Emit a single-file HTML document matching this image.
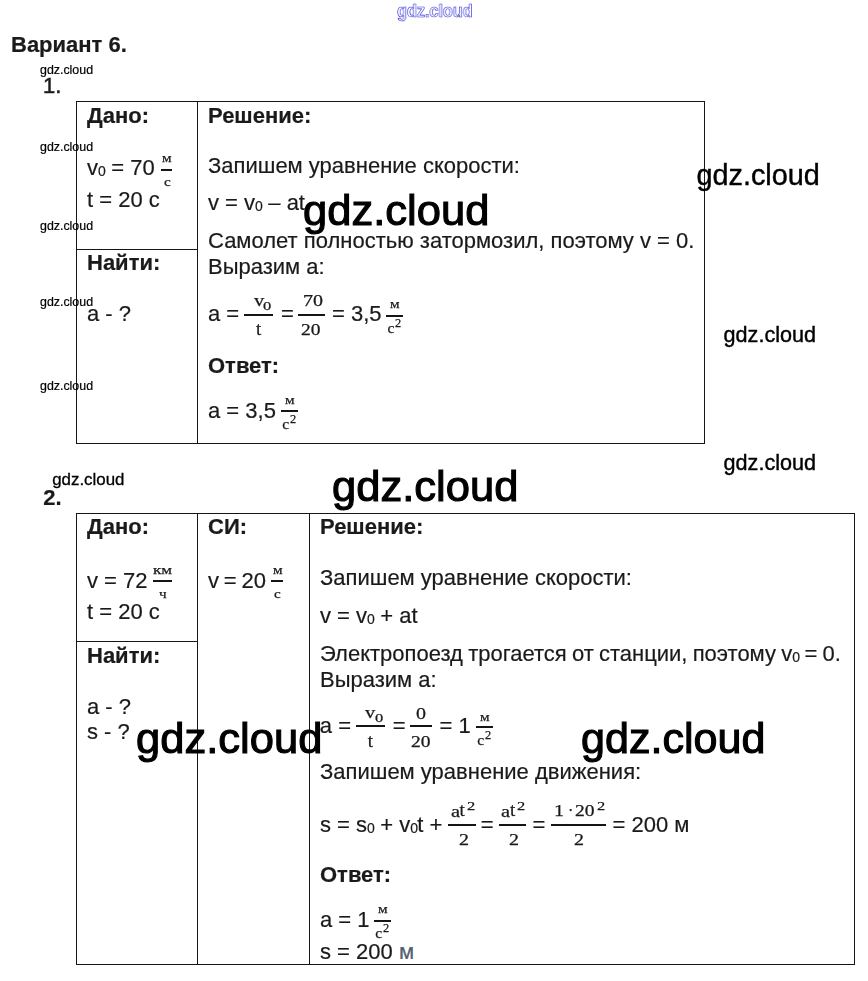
<!DOCTYPE html>
<html lang="ru"><head><meta charset="utf-8"><title>Вариант 6</title>
<style>
html,body{margin:0;padding:0;background:#fff;}
body{width:868px;height:981px;position:relative;overflow:hidden;font-family:"Liberation Sans",sans-serif;color:#1a1a1a;}
.t{-webkit-text-stroke:0.2px #1a1a1a;position:absolute;white-space:nowrap;line-height:normal;transform-origin:0 0;font-family:"Liberation Sans",sans-serif;}
.r{font-family:"Liberation Serif",serif;-webkit-text-stroke:0.25px #1a1a1a;}
.b{font-weight:bold;}
.l{position:absolute;}
.g{position:absolute;left:0;top:0;width:868px;height:981px;filter:grayscale(1);}
.sub{position:relative;}
.sb{letter-spacing:-0.7px;}
.w{color:#000;}
.st5{-webkit-text-stroke:0.5px #222;}
.wo{color:#fff;-webkit-text-stroke:0.65px #2b2bd6;will-change:transform;}
</style></head><body>
<div class="g">
<div class="t b" style="left:11px;top:32.09px;font-size:22px;">Вариант 6.</div>
<div class="t st5" style="left:43px;top:73.39px;font-size:22px;">1.</div>
<div class="l" style="left:76px;top:101px;width:629px;height:1px;background:#151515"></div>
<div class="l" style="left:76px;top:443px;width:629px;height:1px;background:#151515"></div>
<div class="l" style="left:76px;top:101px;width:1px;height:343px;background:#151515"></div>
<div class="l" style="left:197px;top:101px;width:1px;height:343px;background:#151515"></div>
<div class="l" style="left:704px;top:101px;width:1px;height:343px;background:#151515"></div>
<div class="l" style="left:76px;top:249px;width:122px;height:1px;background:#151515"></div>
<div class="t b" style="left:87px;top:103.09px;font-size:22px;">Дано:</div>
<div class="t" style="left:87px;top:155.09px;font-size:22px;">v<span class="sub sb" style="font-size:14px;top:1px">0</span> = 70</div>
<div class="l" style="left:161.2px;top:169px;width:10.6px;height:1.8px;background:#151515"></div>
<div class="t r" style="left:161.7px;top:150.47px;font-size:13.5px;transform:scaleX(1.12);">м</div>
<div class="t r" style="left:163.8px;top:174.47px;font-size:13.5px;transform:scaleX(1.12);">с</div>
<div class="t" style="left:87px;top:187.39px;font-size:22px;">t = 20 с</div>
<div class="t b" style="left:87px;top:250.09px;font-size:22px;">Найти:</div>
<div class="t" style="left:87px;top:301.09px;font-size:22px;">a - ?</div>
<div class="t b" style="left:208px;top:103.09px;font-size:22px;">Решение:</div>
<div class="t" style="left:208px;top:153.09px;font-size:22px;">Запишем уравнение скорости:</div>
<div class="t" style="left:208px;top:190.09px;font-size:22px;">v = v<span class="sub sb" style="font-size:14px;top:1px">0</span> – at</div>
<div class="t" style="left:208px;top:228.09px;font-size:22px;">Самолет полностью затормозил, поэтому v = 0.</div>
<div class="t" style="left:208px;top:254.09px;font-size:22px;">Выразим а:</div>
<div class="t" style="left:208px;top:301.09px;font-size:22px;">a =</div>
<div class="l" style="left:244.4px;top:313.6px;width:28.6px;height:2px;background:#151515"></div>
<div class="t r" style="left:253.5px;top:290.21px;font-size:17.5px;transform:scaleX(1.17);">v</div>
<div class="t r" style="left:263.4px;top:299.28px;font-size:12.7px;transform:scaleX(1.3);">0</div>
<div class="t r" style="left:255.9px;top:317.67px;font-size:19px;">t</div>
<div class="t" style="left:281px;top:301.09px;font-size:22px;">=</div>
<div class="l" style="left:297.6px;top:313.6px;width:27.2px;height:2px;background:#151515"></div>
<div class="t r" style="left:302.8px;top:291.94px;font-size:16px;transform:scaleX(1.25);">70</div>
<div class="t r" style="left:301.0px;top:320.54px;font-size:16px;transform:scaleX(1.22);">20</div>
<div class="t" style="left:332px;top:301.09px;font-size:22px;">= 3,5</div>
<div class="l" style="left:386.2px;top:314.7px;width:16.8px;height:2px;background:#151515"></div>
<div class="t r" style="left:390.2px;top:296.47px;font-size:13.5px;transform:scaleX(1.12);">м</div>
<div class="t r" style="left:387.5px;top:318.89px;font-size:15.5px;transform:scaleX(1.0);">с</div>
<div class="t r" style="left:395.2px;top:317.05px;font-size:11.5px;transform:scaleX(1.08);">2</div>
<div class="t b" style="left:208px;top:353.09px;font-size:22px;">Ответ:</div>
<div class="t" style="left:208px;top:397.69px;font-size:22px;">a = 3,5</div>
<div class="l" style="left:280.9px;top:409.8px;width:16.8px;height:2px;background:#151515"></div>
<div class="t r" style="left:284.9px;top:392.37px;font-size:13.5px;transform:scaleX(1.12);">м</div>
<div class="t r" style="left:282.2px;top:414.59px;font-size:15.5px;transform:scaleX(1.0);">с</div>
<div class="t r" style="left:289.9px;top:412.75px;font-size:11.5px;transform:scaleX(1.08);">2</div>
<div class="t b" style="left:43.2px;top:485.29px;font-size:22px;">2.</div>
<div class="l" style="left:76px;top:513px;width:779px;height:1px;background:#151515"></div>
<div class="l" style="left:76px;top:964px;width:779px;height:1px;background:#151515"></div>
<div class="l" style="left:76px;top:513px;width:1px;height:452px;background:#151515"></div>
<div class="l" style="left:197px;top:513px;width:1px;height:452px;background:#151515"></div>
<div class="l" style="left:309px;top:513px;width:1px;height:452px;background:#151515"></div>
<div class="l" style="left:854px;top:513px;width:1px;height:452px;background:#151515"></div>
<div class="l" style="left:76px;top:641px;width:122px;height:1px;background:#151515"></div>
<div class="t b" style="left:87px;top:514.09px;font-size:22px;">Дано:</div>
<div class="t b" style="left:208px;top:514.09px;font-size:22px;">СИ:</div>
<div class="t b" style="left:320px;top:514.09px;font-size:22px;">Решение:</div>
<div class="t" style="left:87px;top:568.09px;font-size:22px;">v = 72</div>
<div class="l" style="left:153px;top:579.8px;width:18.9px;height:1.8px;background:#151515"></div>
<div class="t r" style="left:153.3px;top:562.47px;font-size:13.5px;transform:scaleX(1.26);">км</div>
<div class="t r" style="left:159.4px;top:586.47px;font-size:13.5px;transform:scaleX(1.12);">ч</div>
<div class="t" style="left:87px;top:598.69px;font-size:22px;">t = 20 с</div>
<div class="t" style="left:208px;top:568.09px;font-size:22px;word-spacing:-1.3px;">v = 20</div>
<div class="l" style="left:271.4px;top:579.8px;width:11.3px;height:1.8px;background:#151515"></div>
<div class="t r" style="left:273.2px;top:562.17px;font-size:13.5px;transform:scaleX(1.12);">м</div>
<div class="t r" style="left:274.4px;top:586.37px;font-size:13.5px;transform:scaleX(1.12);">с</div>
<div class="t b" style="left:87px;top:643.09px;font-size:22px;">Найти:</div>
<div class="t" style="left:87px;top:694.09px;font-size:22px;">a - ?</div>
<div class="t" style="left:87px;top:719.09px;font-size:22px;">s - ?</div>
<div class="t" style="left:320px;top:565.09px;font-size:22px;">Запишем уравнение скорости:</div>
<div class="t" style="left:320px;top:603.09px;font-size:22px;">v = v<span class="sub sb" style="font-size:14px;top:1px">0</span> + at</div>
<div class="t" style="left:320px;top:641.09px;font-size:22px;word-spacing:-0.9px;">Электропоезд трогается от станции, поэтому v<span class="sub sb" style="font-size:14px;top:1px">0</span> = 0.</div>
<div class="t" style="left:320px;top:667.09px;font-size:22px;">Выразим а:</div>
<div class="t" style="left:319.8px;top:713.09px;font-size:22px;">a =</div>
<div class="l" style="left:356.2px;top:724.9px;width:28.6px;height:2px;background:#151515"></div>
<div class="t r" style="left:365.3px;top:702.21px;font-size:17.5px;transform:scaleX(1.17);">v</div>
<div class="t r" style="left:375.2px;top:711.28px;font-size:12.7px;transform:scaleX(1.3);">0</div>
<div class="t r" style="left:367.7px;top:729.67px;font-size:19px;">t</div>
<div class="t" style="left:392.8px;top:713.09px;font-size:22px;">=</div>
<div class="l" style="left:410.1px;top:724.9px;width:21.6px;height:2px;background:#151515"></div>
<div class="t r" style="left:416.0px;top:704.74px;font-size:16px;transform:scaleX(1.25);">0</div>
<div class="t r" style="left:410.7px;top:732.54px;font-size:16px;transform:scaleX(1.22);">20</div>
<div class="t" style="left:439.6px;top:713.09px;font-size:22px;">= 1</div>
<div class="l" style="left:476px;top:725.9px;width:16.8px;height:2px;background:#151515"></div>
<div class="t r" style="left:480.0px;top:708.57px;font-size:13.5px;transform:scaleX(1.12);">м</div>
<div class="t r" style="left:477.3px;top:730.89px;font-size:15.5px;transform:scaleX(1.0);">с</div>
<div class="t r" style="left:485.0px;top:729.05px;font-size:11.5px;transform:scaleX(1.08);">2</div>
<div class="t" style="left:320px;top:759.39px;font-size:22px;">Запишем уравнение движения:</div>
<div class="t" style="left:320px;top:812.09px;font-size:22px;">s = s<span class="sub sb" style="font-size:14px;top:1px">0</span> + v<span class="sub sb" style="font-size:14px;top:1px">0</span>t +</div>
<div class="l" style="left:448.4px;top:823.6px;width:27.7px;height:2px;background:#151515"></div>
<div class="t r" style="left:450.5px;top:800.81px;font-size:17.5px;transform:scaleX(1.17);">a</div>
<div class="t r" style="left:459.4px;top:799.47px;font-size:19px;">t</div>
<div class="t r" style="left:466.7px;top:798.68px;font-size:12.7px;transform:scaleX(1.3);">2</div>
<div class="t r" style="left:458.6px;top:830.94px;font-size:16px;transform:scaleX(1.25);">2</div>
<div class="t" style="left:480.8px;top:812.09px;font-size:22px;">=</div>
<div class="l" style="left:499.0px;top:823.6px;width:27.3px;height:2px;background:#151515"></div>
<div class="t r" style="left:501.1px;top:800.81px;font-size:17.5px;transform:scaleX(1.17);">a</div>
<div class="t r" style="left:510.0px;top:799.47px;font-size:19px;">t</div>
<div class="t r" style="left:517.3px;top:798.68px;font-size:12.7px;transform:scaleX(1.3);">2</div>
<div class="t r" style="left:509.2px;top:830.94px;font-size:16px;transform:scaleX(1.25);">2</div>
<div class="t" style="left:532.6px;top:812.09px;font-size:22px;">=</div>
<div class="l" style="left:551px;top:823.6px;width:55.3px;height:2px;background:#151515"></div>
<div class="t r" style="left:553.6px;top:802.14px;font-size:16px;transform:scaleX(1.25);">1</div>
<div class="t r" style="left:567.9px;top:802.14px;font-size:16px;">·</div>
<div class="t r" style="left:575.2px;top:802.14px;font-size:16px;transform:scaleX(1.22);">20</div>
<div class="t r" style="left:596.6px;top:798.68px;font-size:12.7px;transform:scaleX(1.3);">2</div>
<div class="t r" style="left:573.6px;top:830.94px;font-size:16px;transform:scaleX(1.25);">2</div>
<div class="t" style="left:612.6px;top:812.09px;font-size:22px;">= 200 м</div>
<div class="t b" style="left:320px;top:862.39px;font-size:22px;">Ответ:</div>
<div class="t" style="left:320px;top:906.89px;font-size:22px;">a = 1</div>
<div class="l" style="left:373.9px;top:919.5px;width:16.8px;height:2px;background:#151515"></div>
<div class="t r" style="left:377.9px;top:901.47px;font-size:13.5px;transform:scaleX(1.12);">м</div>
<div class="t r" style="left:375.2px;top:923.79px;font-size:15.5px;transform:scaleX(1.0);">с</div>
<div class="t r" style="left:382.9px;top:921.95px;font-size:11.5px;transform:scaleX(1.08);">2</div>
<div class="t" style="left:320px;top:939.19px;font-size:22px;">s = 200</div>
<div class="t w" style="left:40px;top:63.38px;font-size:12.4px;-webkit-text-stroke:0.2px #000;">gdz.cloud</div>
<div class="t w" style="left:40px;top:139.78px;font-size:12.4px;-webkit-text-stroke:0.2px #000;">gdz.cloud</div>
<div class="t w" style="left:40px;top:219.38px;font-size:12.4px;-webkit-text-stroke:0.2px #000;">gdz.cloud</div>
<div class="t w" style="left:40px;top:295.18px;font-size:12.4px;-webkit-text-stroke:0.2px #000;">gdz.cloud</div>
<div class="t w" style="left:40px;top:379.18px;font-size:12.4px;-webkit-text-stroke:0.2px #000;">gdz.cloud</div>
<div class="t w" style="left:696.4px;top:158.89px;font-size:28.85px;-webkit-text-stroke:0.4px #000;">gdz.cloud</div>
<div class="t w" style="left:723.6px;top:321.65px;font-size:21.6px;-webkit-text-stroke:0.4px #000;">gdz.cloud</div>
<div class="t w" style="left:723.6px;top:449.55px;font-size:21.6px;-webkit-text-stroke:0.4px #000;">gdz.cloud</div>
<div class="t w" style="left:52.2px;top:470.21px;font-size:16.9px;-webkit-text-stroke:0.3px #000;">gdz.cloud</div>
<div class="t w" style="left:303.1px;top:186.00px;font-size:43.2px;-webkit-text-stroke:1.1px #000;transform:scaleX(1.008);">gdz.cloud</div>
<div class="t w" style="left:331.9px;top:461.50px;font-size:43.2px;-webkit-text-stroke:1.1px #000;transform:scaleX(1.008);">gdz.cloud</div>
<div class="t w" style="left:136.4px;top:714.10px;font-size:43.2px;-webkit-text-stroke:1.1px #000;transform:scaleX(1.008);">gdz.cloud</div>
<div class="t w" style="left:580.9px;top:714.10px;font-size:43.2px;-webkit-text-stroke:1.1px #000;transform:scaleX(0.998);">gdz.cloud</div>
</div>
<div class="t b wo" style="left:396.6px;top:0.76px;font-size:17.5px;transform:scaleX(0.925);">gdz.cloud</div>
<div class="t" style="left:398.9px;top:939.19px;font-size:22px;color:#55687a;">м</div>
</body></html>
